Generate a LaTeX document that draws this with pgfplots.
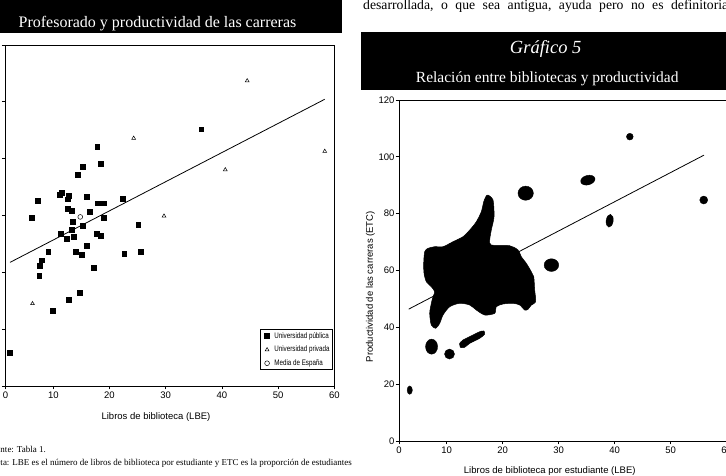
\documentclass[border=0pt]{standalone}
\usepackage{fontspec}
\setmainfont{Liberation Serif}
\setsansfont{Liberation Sans}
\newfontfamily\narrowsans[FakeStretch=0.78]{Liberation Sans}
\usepackage{pgfplots}
\pgfplotsset{compat=1.18}

% shared look of both scatter charts (LBE against ETC)
\pgfplotsset{
  lbechart/.style={
    scale only axis,
    font=\sffamily\fontsize{9.5}{11}\selectfont,
    /pgf/number format/assume math mode=true,
    axis line style={line width=0.8pt},
    tick style={line width=0.7pt, black},
    tick align=outside, major tick length=3.5pt,
    tick pos=left,
    ymin=0, ymax=120, ytick={0,20,...,120},
    xmax=60,
    xtick={1.49,10,20,30,40,50,60},
    xticklabels={0,10,20,30,40,50,60},
    xticklabel style={yshift=1pt},
  }
}

\begin{document}
\begin{tikzpicture}[x=1pt,y=1pt]
\useasboundingbox (0,0) rectangle (726,476);
\clip (0,0) rectangle (726,476);

% ---- heading bars ----
\fill[black] (-5,442.5) rectangle (342,485);
\node[white, anchor=base, inner sep=0pt, font=\fontsize{16}{18}\selectfont]
  at (157.5,448) {Profesorado y productividad de las carreras};
\fill[black] (361,386) rectangle (735,444.3);
\node[white, anchor=base, inner sep=0pt, font=\fontsize{18.5}{20}\selectfont\itshape]
  at (545.7,422.7) {Gráfico 5};
\node[white, anchor=base, inner sep=0pt, font=\fontsize{15.5}{18}\selectfont]
  at (547.2,393) {Relación entre bibliotecas y productividad};

% ---- running text ----
\node[anchor=base west, inner sep=0pt, font=\fontsize{13.7}{16}\selectfont]
  at (363,466.3) {\spaceskip=7.5pt\relax desarrollada, o que sea antigua, ayuda pero no es definitoria};

% ---- notes under the left chart ----
\node[anchor=base east, inner sep=0pt, font=\fontsize{9}{10}\selectfont] at (0.3,23.3) {Fue};
\node[anchor=base west, inner sep=0pt, font=\fontsize{9}{10}\selectfont] at (0.3,23.3) {nte: Tabla 1.};
\node[anchor=base east, inner sep=0pt, font=\fontsize{9}{10}\selectfont] at (0.3,10.7) {No};
\node[anchor=base west, inner sep=0pt, font=\fontsize{9}{10}\selectfont] at (0.3,10.7)
  {ta: LBE es el número de libros de biblioteca por estudiante y ETC es la proporción de estudiantes};

% ================= left chart =================
\begin{axis}[lbechart,
  at={(5.3pt,90pt)}, anchor=south west,
  width=329pt, height=341pt,
  xmin=1.46,
  xlabel={Libros de biblioteca (LBE)},
  xlabel style={at={(axis description cs:0.458,-0.090)}, anchor=center},
  legend style={at={(0.994,0.047)}, anchor=south east, draw=black, line width=0.6pt,
    font=\narrowsans\fontsize{8}{9}\selectfont,
    inner xsep=1.2pt, inner ysep=1.5pt, row sep=3.6pt,
    nodes={inner sep=1.3pt}, cells={anchor=west}},
  legend image code/.code={%
    \path[draw=none, fill=none] (0pt,-2pt) rectangle (11.5pt,2pt);
    \draw[mark repeat=2,mark phase=2,#1] plot coordinates {(0pt,0pt)(5.5pt,0pt)(11pt,0pt)};},
]
% public universities
\addplot[only marks, mark=square*, mark size=2.4, black] coordinates {
 (36.3,90.4) (17.8,84.2) (18.4,78.2) (15.3,77.3) (14.4,74.4)
 (11.5,67.9) (11.2,67.2) (12.7,67.0) (12.6,65.7) (15.9,66.6)
 (7.2,65.2) (17.9,64.3) (18.4,64.3) (18.9,64.3) (22.3,65.9)
 (12.5,62.3) (13.3,61.8) (16.5,61.2) (6.2,59.2) (18.9,59.2)
 (13.4,57.7) (15.3,56.4) (25.1,56.9) (13.3,55.0) (11.3,53.6)
 (17.7,53.6) (18.5,53.0) (13.6,52.4) (12.4,51.7) (9.1,47.3)
 (14.0,47.3) (15.1,46.3) (16.0,49.5) (22.6,46.6) (25.6,47.2)
 (7.9,44.3) (7.6,42.3) (7.5,38.8) (17.2,41.6) (14.7,32.7)
 (12.7,30.3) (9.9,26.4) (2.2,11.7)
};
\addlegendentry{Universidad pública}
% private universities
\addplot[only marks, mark=triangle, mark size=2.2, black, mark options={line width=0.5pt}] coordinates {
 (44.5,107.4) (24.3,87.2) (58.3,82.6) (40.6,76.1) (29.7,59.8) (6.3,29.0)
};
\addlegendentry{Universidad privada}
% national mean
\addplot[only marks, mark=o, mark size=2.4, black, mark options={line width=0.5pt}] coordinates {(14.8,59.5)};
\addlegendentry{Media de España}
% fitted line
\addplot[no marks, black, line width=0.8pt, forget plot] coordinates {(2.3,43.5) (58.3,100.9)};
\end{axis}

% ================= right chart (Gráfico 5) =================
\begin{axis}[lbechart,
  at={(399pt,35pt)}, anchor=south west,
  width=327.7pt, height=341pt,
  xmin=1.48,
  yticklabel style={xshift=2.5pt},
  xlabel={Libros de biblioteca por estudiante (LBE)},
  xlabel style={at={(axis description cs:0.46,-0.088)}, anchor=center},
  ylabel={Productividad de las carreras (ETC)},
  ylabel style={at={(axis description cs:-0.087,0.4525)}, anchor=center},
]
% fitted line
\addplot[no marks, black, line width=0.8pt] coordinates {(3.21,46.4) (55.95,100.6)};
% dense cluster of careers
\addplot[fill=black, draw=black, line width=0.5pt, smooth, tension=0.45] coordinates {
 (17.38,86.56) (18.27,84.80) (18.45,78.92) (17.96,74.24) (17.68,70.72) (17.96,68.97)
 (21.25,68.72) (22.73,67.21) (23.32,64.85) (24.21,62.53) (25.11,59.57) (25.54,57.81)
 (25.71,53.13) (25.89,49.01) (25.11,47.85) (24.52,46.34) (23.93,46.09) (23.04,47.85)
 (21.84,48.45) (20.05,48.21) (18.86,47.26) (18.57,44.93) (16.79,44.34) (15.29,46.09)
 (14.11,47.85) (12.32,48.45) (10.54,47.26) (9.34,44.34) (8.75,41.41) (8.04,39.66)
 (7.25,40.82) (6.96,44.93) (7.25,48.45) (7.55,50.77) (7.86,52.53) (7.25,54.29)
 (6.36,56.05) (5.95,59.01) (5.89,62.53) (6.07,66.61) (6.66,67.80) (7.86,68.37)
 (9.34,68.37) (11.13,70.13) (12.91,71.89) (14.11,74.24) (15.29,77.16) (16.18,80.68)
 (16.61,84.20) (17.07,86.31) (17.38,86.56)
};
% small groups of careers
\addplot[fill=black, draw=black, line width=0.5pt, smooth, tension=0.5] coordinates {
 (12.32,34.38) (12.91,35.54) (14.70,37.30) (15.89,38.46) (16.61,38.71) (16.79,37.65)
 (15.89,36.13) (14.11,34.38) (13.21,32.97) (12.43,32.97) (12.32,34.38)
};
\addplot[only marks, mark=*, mark size=3.4, black] coordinates {(42.7,107.1)};
\addplot[only marks, mark=*, mark size=7.7, black, mark options={yscale=0.92}] coordinates {(24.1,87.2)};
\addplot[only marks, mark=*, mark size=7.3, black, mark options={rotate=15, yscale=0.65}] coordinates {(35.2,91.8)};
\addplot[only marks, mark=*, mark size=4, black] coordinates {(55.9,84.8)};
\addplot[only marks, mark=*, mark size=3.5, black, mark options={rotate=-8, yscale=1.85}] coordinates {(39.1,77.5)};
\addplot[only marks, mark=*, mark size=7.3, black, mark options={yscale=0.87}] coordinates {(28.7,61.9)};
\addplot[only marks, mark=*, mark size=6, black, mark options={yscale=1.25}] coordinates {(7.3,33.2)};
\addplot[only marks, mark=*, mark size=5, black] coordinates {(10.5,30.6)};
\addplot[only marks, mark=*, mark size=2.6, black, mark options={yscale=1.6}] coordinates {(3.4,17.9)};
\end{axis}
\end{tikzpicture}
\end{document}
